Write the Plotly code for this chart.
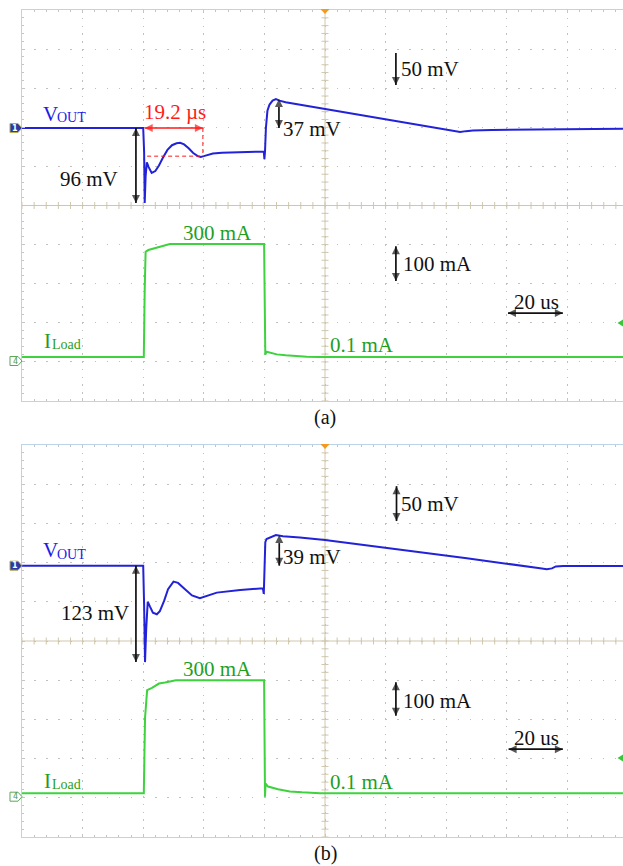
import plotly.graph_objects as go

W, H = 623, 866
FONT = "Liberation Serif"

# ---------------------------------------------------------------
# Time base of the capture (us); 20 us per division
T_MIN, T_MAX = -100.0, 98.35
US_PER_DIV = 20

# (a) output voltage deviation, mV
ta_v = [-100, -60.0, -59.7, -59.5, -59.2, -58.8, -58.2, -57.2, -56.0, -54.8,
        -53.5, -52.0, -50.5, -49.0, -47.8, -46.5, -45.0, -43.5, -42.0, -41.0,
        -40.0, -38.5, -37.0, -34.0, -30.0, -25.0, -20.5, -20.2, -20.0, -19.8,
        -19.5, -19.0, -18.3, -17.3, -16.2, -15.0, -13.0, -10.0, -8.3, 0.0,
        20.0, 44.6, 46.5, 48.8, 55.0, 65.0, 80.0, 98.35]
va = [0, 0, -30, -96, -62, -44, -50, -57.5, -55, -48,
      -38, -28, -22, -19.5, -19, -21, -26, -32, -36, -37,
      -36, -34, -32.5, -31.5, -31, -30.5, -29.5, -30, -40, -30,
      0, 22, 30, 35, 37, 35, 33, 31, 30.5, 24.5,
      12, -5, -4, -3.2, -2.5, -2, -1.5, -1]

# (a) load current, mA
ta_i = [-100, -59.8, -59.5, -59.2, -58.3, -56.7, -54.5, -52.2, -51.2, -20.1,
        -19.9, -19.7, -19.3, -17.5, -15.9, -13.0, -10.6, -6.0, -2.0, 98.35]
ia = [0.1, 0.1, 180, 279.5, 284, 287.5, 293, 297.3, 300, 300,
      150, 6, 14, 10, 7, 4.5, 2.7, 1.0, 0.1, 0.1]

# (b) output voltage deviation, mV
tb_v = [-100, -60.0, -59.7, -59.4, -59.0, -58.5, -57.8, -56.8, -55.5, -54.5,
        -53.1, -51.8, -50.0, -48.5, -46.2, -43.9, -41.3, -38.6, -35.7, -28.0,
        -20.5, -20.2, -20.0, -19.7, -19.3, -18.2, -16.2, -13.9, -11.6, -8.3,
        0.0, 24.8, 46.8, 71.0, 73.2, 74.9, 76.2, 78.6, 98.35]
vb = [0, 0, -50, -123, -80, -46, -52, -60, -62, -58,
      -45, -30, -20.4, -22, -30, -38, -41.6, -38, -34.4, -31,
      -28.8, -36, -10, 30, 34, 36, 39, 37.5, 37, 36,
      32.8, 20.9, 9.4, -3.3, -4.6, -3.5, -1.0, -0.4, -0.4]

# (b) load current, mA
tb_i = [-100, -59.8, -59.4, -58.7, -57.1, -54.8, -52.8, -50.9, -49.2, -20.1,
        -20.0, -19.8, -19.6, -18.8, -15.5, -11.6, -7.6, -1.7, 98.35]
ib = [0.1, 0.1, 200, 274, 280, 291.5, 294, 298, 300, 300,
      150, -9, 26, 18, 10.6, 5, 2.7, 0.5, 0.1]

# measured quantities
step_t = -59.5            # load step edge, us
drop_a, over_a = 96, 37   # mV
drop_b, over_b = 123, 39  # mV
settle_a = 19.2           # us
settle_level_a = -36      # mV, recovery reference level
i_high, i_low = 300, 0.1  # mA
t_drop_marker = -62.4     # us, where the undershoot arrows sit
t_over_marker = -15.2     # us, where the overshoot arrows sit

# ---------------------------------------------------------------
BLUE = "#2222d8"
BLUE_T = "#1c1ce6"
GREEN = "#3ed23e"
GREEN_T = "#1f9f1f"
RED = "#ff1a1a"
BLACK = "#111111"
GRID = "#c0c0c0"
BORDER = "#bcd4e6"
CENTER = "#cfc7ad"
TICK = "#c4c4c4"
LABEL_SIZE = 21
SUB_SIZE = 14


def px(x):
    return x / W


def py(y):
    return 1 - y / H


dom_x = [px(22), 1]
dom_a = [py(401), py(10)]
dom_b = [py(837), py(445)]


def grid_x(anchor):
    return dict(domain=dom_x, range=[T_MIN, T_MAX], anchor=anchor,
                showgrid=True, gridcolor=GRID, gridwidth=1, griddash="1.5px,6.3px",
                dtick=US_PER_DIV, tick0=0, showticklabels=False, zeroline=False,
                showline=True, linecolor=BORDER, linewidth=1, mirror="ticks",
                ticks="inside", ticklen=3, tickcolor=TICK,
                minor=dict(dtick=US_PER_DIV / 5, tick0=0, ticks="inside",
                           ticklen=2, tickcolor=TICK, showgrid=False),
                fixedrange=True)


def grid_y(domain, anchor):
    return dict(domain=domain, range=[-5, 5], anchor=anchor,
                showgrid=True, gridcolor=GRID, gridwidth=1, griddash="1.5px,10.6px",
                dtick=1, tick0=0, showticklabels=False, zeroline=False,
                showline=True, linecolor=BORDER, linewidth=1, mirror=False,
                ticks="inside", ticklen=3, tickcolor=TICK,
                minor=dict(dtick=0.2, tick0=0, ticks="inside", ticklen=2,
                           tickcolor=TICK, showgrid=False),
                fixedrange=True)


def overlay(over, anchor, rng):
    return dict(overlaying=over, anchor=anchor, range=rng, visible=False,
                showgrid=False, zeroline=False, fixedrange=True)


fig = go.Figure()

# centre graticule tick marks
minor_t = [T_MIN + 4 * k for k in range(50)]
minor_d = [-5 + 0.2 * k for k in range(51)]
for xa, ya in (("x", "y"), ("x2", "y4")):
    fig.add_trace(go.Scatter(x=minor_t, y=[0] * len(minor_t), mode="markers",
                             xaxis=xa, yaxis=ya, hoverinfo="skip",
                             marker=dict(symbol="line-ns-open", size=5, color=CENTER,
                                         line=dict(color=CENTER, width=1))))
    fig.add_trace(go.Scatter(x=[0] * len(minor_d), y=minor_d, mode="markers",
                             xaxis=xa, yaxis=ya, hoverinfo="skip",
                             marker=dict(symbol="line-ew-open", size=5, color=CENTER,
                                         line=dict(color=CENTER, width=1))))

# waveforms
fig.add_trace(go.Scatter(x=ta_i, y=ia, xaxis="x", yaxis="y3", mode="lines",
                         line=dict(color=GREEN, width=2), hoverinfo="skip"))
fig.add_trace(go.Scatter(x=ta_v, y=va, xaxis="x", yaxis="y2", mode="lines",
                         line=dict(color=BLUE, width=2), hoverinfo="skip"))
fig.add_trace(go.Scatter(x=tb_i, y=ib, xaxis="x2", yaxis="y6", mode="lines",
                         line=dict(color=GREEN, width=2), hoverinfo="skip"))
fig.add_trace(go.Scatter(x=tb_v, y=vb, xaxis="x2", yaxis="y5", mode="lines",
                         line=dict(color=BLUE, width=2), hoverinfo="skip"))


def arrow(xa, ya, x0, y0, x1, y1, color=BLACK, start=True):
    """Double (or single) headed arrow drawn as a line with arrow markers."""
    if x0 == x1:
        heads = ["arrow-up", "arrow-down"] if y0 > y1 else ["arrow-down", "arrow-up"]
    else:
        heads = ["arrow-left", "arrow-right"] if x0 < x1 else ["arrow-right", "arrow-left"]
    fig.add_trace(go.Scatter(
        x=[x0, x1], y=[y0, y1], xaxis=xa, yaxis=ya, mode="lines+markers",
        hoverinfo="skip", line=dict(color=color, width=1.7),
        marker=dict(symbol=heads, size=[8 if start else 0, 8], color=color,
                    line=dict(width=0))))


# measured swings
arrow("x", "y2", step_t, 0, step_t + settle_a, 0, RED)
arrow("x", "y2", t_drop_marker, 0, t_drop_marker, -drop_a)
arrow("x", "y2", t_over_marker, 0, t_over_marker, over_a)
arrow("x2", "y5", t_drop_marker, 0, t_drop_marker, -drop_b)
arrow("x2", "y5", t_over_marker + 0.1, 0, t_over_marker + 0.1, over_b)

# scale bars (grid units: us horizontally, divisions vertically)
arrow("x", "y", 23.4, 3.90, 23.4, 3.08, start=False)
arrow("x", "y", 23.4, -1.04, 23.4, -1.93)
arrow("x", "y", 60.4, -2.75, 78.5, -2.75)
arrow("x2", "y4", 23.6, 3.95, 23.6, 3.06)
arrow("x2", "y4", 23.4, -1.05, 23.4, -1.91)
arrow("x2", "y4", 60.6, -2.76, 78.5, -2.76)

shapes = []
# centre lines
for xa, ya in (("x", "y"), ("x2", "y4")):
    shapes.append(dict(type="line", xref=xa, yref=ya, x0=0, x1=0, y0=-5, y1=5,
                       line=dict(color=CENTER, width=1), layer="below"))
    shapes.append(dict(type="line", xref=xa, yref=ya, x0=T_MIN, x1=T_MAX, y0=0, y1=0,
                       line=dict(color=CENTER, width=1), layer="below"))

# recovery-time guides in (a)
shapes.append(dict(type="line", xref="x", yref="y2", x0=step_t + 0.8, x1=step_t + settle_a,
                   y0=settle_level_a, y1=settle_level_a,
                   line=dict(color=RED, width=1, dash="4px,3px")))
shapes.append(dict(type="line", xref="x", yref="y2", x0=step_t + settle_a, x1=step_t + settle_a,
                   y0=0, y1=settle_level_a, line=dict(color=RED, width=1, dash="4px,3px")))


def path(points):
    return "M" + " L".join(f"{px(a):.5f},{py(b):.5f}" for a, b in points) + " Z"


for top in (10, 445):
    # trigger position marker
    shapes.append(dict(type="path", xref="paper", yref="paper",
                       path=path([(320.5, top - 1), (329.5, top - 1), (325, top + 4)]),
                       fillcolor="#f39a1e", line=dict(width=0)))

for yv, yi, ylev in ((128, 361, 323), (565.7, 796.7, 758)):
    # channel reference badges
    shapes.append(dict(type="path", xref="paper", yref="paper",
                       path=path([(10, yv - 4.5), (18, yv - 4.5), (22, yv), (18, yv + 4.5), (10, yv + 4.5)]),
                       fillcolor="#2b3ba6", line=dict(color="#b9aa4c", width=1)))
    shapes.append(dict(type="path", xref="paper", yref="paper",
                       path=path([(10, yi - 4.5), (18, yi - 4.5), (22, yi), (18, yi + 4.5), (10, yi + 4.5)]),
                       fillcolor="white", line=dict(color="#5aa85a", width=1)))
    # trigger level marker
    shapes.append(dict(type="path", xref="paper", yref="paper",
                       path=path([(617.5, ylev), (623, ylev - 3.5), (623, ylev + 3.5)]),
                       fillcolor="#3cc43c", line=dict(width=0)))

ann = []


def label(text, x, y, color=BLACK, size=LABEL_SIZE, xanchor="center", family=FONT):
    ann.append(dict(text=text, x=px(x), y=py(y), xref="paper", yref="paper",
                    showarrow=False, xanchor=xanchor, yanchor="middle",
                    font=dict(family=family, size=size, color=color)))


def subscripted(main, sub, x, y, color, sub_dx, sub_dy):
    label(main, x, y, color, xanchor="left")
    label(sub, x + sub_dx, y + sub_dy, color, size=SUB_SIZE, xanchor="left")


# ---- panel (a)
subscripted("V", "OUT", 41, 114, BLUE_T, 14, 3.5)
label(f"{settle_a} µs", 175, 112, RED)
label(f"{drop_a} mV", 89, 179)
label(f"{over_a} mV", 312, 129)
label("50 mV", 430, 69)
label(f"{i_high} mA", 217, 233, GREEN_T)
label("100 mA", 437, 264)
label("20 us", 536, 302)
subscripted("I", "Load", 42, 341, GREEN_T, 7.5, 3.5)
label(f"{i_low} mA", 362, 345, GREEN_T)
label("(a)", 325, 418, size=20)

# ---- panel (b)
subscripted("V", "OUT", 41, 550, BLUE_T, 14, 4)
label(f"{drop_b} mV", 95, 613)
label(f"{over_b} mV", 312, 557)
label("50 mV", 430, 504)
label(f"{i_high} mA", 217, 669, GREEN_T)
label("100 mA", 437, 701)
label("20 us", 536, 738)
subscripted("I", "Load", 42, 781, GREEN_T, 7.5, 3.5)
label(f"{i_low} mA", 362, 782, GREEN_T)
label("(b)", 325, 853, size=20)

# channel badge numerals
for yv, yi in ((128, 361), (565.7, 796.7)):
    label("<b>1</b>", 15, yv, "white", size=8, family="DejaVu Sans")
    label("4", 15, yi, "#4a9a4a", size=8, family="DejaVu Sans")

fig.update_layout(
    width=W, height=H, autosize=False,
    margin=dict(l=0, r=0, t=0, b=0),
    paper_bgcolor="white", plot_bgcolor="white", showlegend=False,
    xaxis=grid_x("y"),
    yaxis=grid_y(dom_a, "x"),
    yaxis2=overlay("y", "x", [-349.1, 150.9]),
    yaxis3=overlay("y", "x", [-116.8, 921.3]),
    xaxis2=grid_x("y4"),
    yaxis4=grid_y(dom_b, "x2"),
    yaxis5=overlay("y4", "x2", [-346.1, 153.9]),
    yaxis6=overlay("y4", "x2", [-116.0, 924.9]),
    shapes=shapes,
    annotations=ann,
)

fig.write_html("out.html")
